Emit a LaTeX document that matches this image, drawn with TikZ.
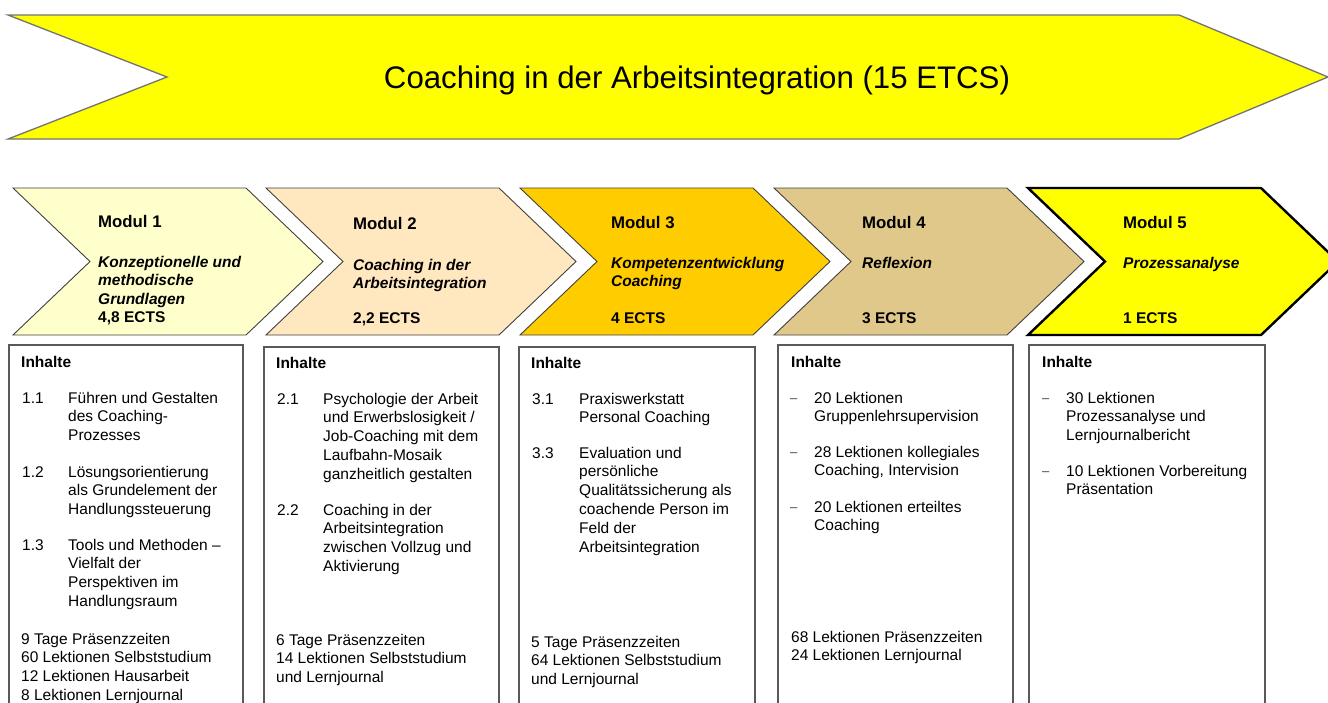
\documentclass[tikz,border=0pt]{standalone}
\usepackage{fontspec}
\setmainfont{Liberation Sans}
\definecolor{banneryellow}{HTML}{FFFF00}
\definecolor{modone}{HTML}{FFFFCC}
\definecolor{modtwo}{HTML}{FFE7BF}
\definecolor{modthree}{HTML}{FFCC00}
\definecolor{modfour}{HTML}{E0C88A}
\definecolor{modfive}{HTML}{FFFF00}
% one chevron: left x, fill colour, extra style
\newcommand\chevronshape[3]{%
  \draw[chev,fill=#2,#3] (#1,188) -- ({#1+233},188) -- ({#1+310},261.5)
    -- ({#1+233},335) -- (#1,335) -- ({#1+77},261.5) -- cycle;}
% a column of lines: name, style, x, first baseline, lines
\newcommand\textlines[5]{%
  \foreach \lntext [count=\idx] in {#5}{%
    \node[#2] (#1-\idx) at (#3,{#4+18.8*(\idx-1)}) {\lntext};}}
\begin{document}
\begin{tikzpicture}[x=1pt,y=-1pt,
  body/.style={inner sep=0pt,anchor=base west,font=\fontsize{15.5}{19}\selectfont},
  bodybold/.style={body,font=\fontsize{15.5}{19}\selectfont\bfseries},
  dashmark/.style={inner sep=0pt,anchor=base west,text=black!75,font=\fontsize{13}{19}\selectfont},
  head/.style={inner sep=0pt,anchor=base west,font=\fontsize{16.8}{19}\selectfont\bfseries},
  sub/.style={inner sep=0pt,anchor=base west,font=\fontsize{15.5}{18}\selectfont\bfseries\itshape},
  ects/.style={inner sep=0pt,anchor=base west,font=\fontsize{15.5}{18}\selectfont\bfseries},
  chev/.style={draw=black!75,line width=0.9pt,line join=miter},
  panel/.style={draw=black!65,line width=1.2pt,fill=white},
]
\useasboundingbox (0,0) rectangle (1328,702);
\clip (0,0) rectangle (1328,702);

% programme banner
\draw[fill=banneryellow,draw=black!55,line width=1.3pt]
  (8,15) -- (1179,15) -- (1328,77) -- (1179,139) -- (8,139) -- (167,77) -- cycle;
\node[inner sep=0pt,anchor=base,font=\fontsize{31.2}{36}\selectfont] (title) at (697,88)
  {Coaching in der Arbeitsintegration (15 ETCS)};

% module chevrons
\chevronshape{13}{modone}{}
\chevronshape{266}{modtwo}{}
\chevronshape{520}{modthree}{}
\chevronshape{774}{modfour}{}
\chevronshape{1028}{modfive}{draw=black,line width=2.4pt}

\node[head] (m1) at (98,227) {Modul 1};
\textlines{m1s}{sub}{98}{267}{Konzeptionelle und,methodische,Grundlagen}
\node[ects] (m1e) at (98,322) {4,8 ECTS};

\node[head] (m2) at (353,229) {Modul 2};
\textlines{m2s}{sub}{353}{270}{Coaching in der,Arbeitsintegration}
\node[ects] (m2e) at (353,323) {2,2 ECTS};

\node[head] (m3) at (611,228) {Modul 3};
\textlines{m3s}{sub}{611}{268}{Kompetenzentwicklung,Coaching}
\node[ects] (m3e) at (611,323) {4 ECTS};

\node[head] (m4) at (862,228) {Modul 4};
\node[sub] (m4s) at (862,268) {Reflexion};
\node[ects] (m4e) at (862,323) {3 ECTS};

\node[head] (m5) at (1123,228) {Modul 5};
\node[sub] (m5s) at (1123,268) {Prozessanalyse};
\node[ects] (m5e) at (1123,323) {1 ECTS};

% content panels
\draw[panel] (9,345) rectangle (243,712);
\draw[panel] (264,347) rectangle (499,712);
\draw[panel] (519,347) rectangle (755,712);
\draw[panel] (778,345) rectangle (1013,712);
\draw[panel] (1029,345) rectangle (1265,712);

% panel 1
\node[bodybold] (p1h) at (21,367) {Inhalte};
\node[body] (p1n1) at (22,403) {1.1};
\textlines{p1a}{body}{68}{403}{Führen und Gestalten,des Coaching-,Prozesses}
\node[body] (p1n2) at (22,477) {1.2};
\textlines{p1b}{body}{68}{477}{Lösungsorientierung,als Grundelement der,Handlungssteuerung}
\node[body] (p1n3) at (22,550) {1.3};
\textlines{p1c}{body}{68}{550}{Tools und Methoden –,Vielfalt der,Perspektiven im,Handlungsraum}
\textlines{p1f}{body}{21}{644}{9 Tage Präsenzzeiten,60 Lektionen Selbststudium,12 Lektionen Hausarbeit,8 Lektionen Lernjournal}

% panel 2
\node[bodybold] (p2h) at (276,368) {Inhalte};
\node[body] (p2n1) at (277,404) {2.1};
\textlines{p2a}{body}{323}{404}{Psychologie der Arbeit,und Erwerbslosigkeit /,Job-Coaching mit dem,Laufbahn-Mosaik,ganzheitlich gestalten}
\node[body] (p2n2) at (277,515) {2.2};
\textlines{p2b}{body}{323}{515}{Coaching in der,Arbeitsintegration,zwischen Vollzug und,Aktivierung}
\textlines{p2f}{body}{276}{645}{6 Tage Präsenzzeiten,14 Lektionen Selbststudium,und Lernjournal}

% panel 3
\node[bodybold] (p3h) at (531,368) {Inhalte};
\node[body] (p3n1) at (532,404) {3.1};
\textlines{p3a}{body}{579}{404}{Praxiswerkstatt,Personal Coaching}
\node[body] (p3n2) at (532,458) {3.3};
\textlines{p3b}{body}{579}{458}{Evaluation und,persönliche,Qualitätssicherung als,coachende Person im,Feld der,Arbeitsintegration}
\textlines{p3f}{body}{531}{647}{5 Tage Präsenzzeiten,64 Lektionen Selbststudium,und Lernjournal}

% panel 4
\node[bodybold] (p4h) at (791,367) {Inhalte};
\node[dashmark] (p4d1) at (790,402) {–};
\textlines{p4a}{body}{814}{403}{20 Lektionen,Gruppenlehrsupervision}
\node[dashmark] (p4d2) at (790,456) {–};
\textlines{p4b}{body}{814}{457}{28 Lektionen kollegiales,{Coaching, Intervision}}
\node[dashmark] (p4d3) at (790,511) {–};
\textlines{p4c}{body}{814}{512}{20 Lektionen erteiltes,Coaching}
\textlines{p4f}{body}{791}{642}{68 Lektionen Präsenzzeiten,24 Lektionen Lernjournal}

% panel 5
\node[bodybold] (p5h) at (1042,367) {Inhalte};
\node[dashmark] (p5d1) at (1042,402) {–};
\textlines{p5a}{body}{1066}{403}{30 Lektionen,Prozessanalyse und,Lernjournalbericht}
\node[dashmark] (p5d2) at (1042,475) {–};
\textlines{p5b}{body}{1066}{476}{10 Lektionen Vorbereitung,Präsentation}
\end{tikzpicture}
\end{document}
